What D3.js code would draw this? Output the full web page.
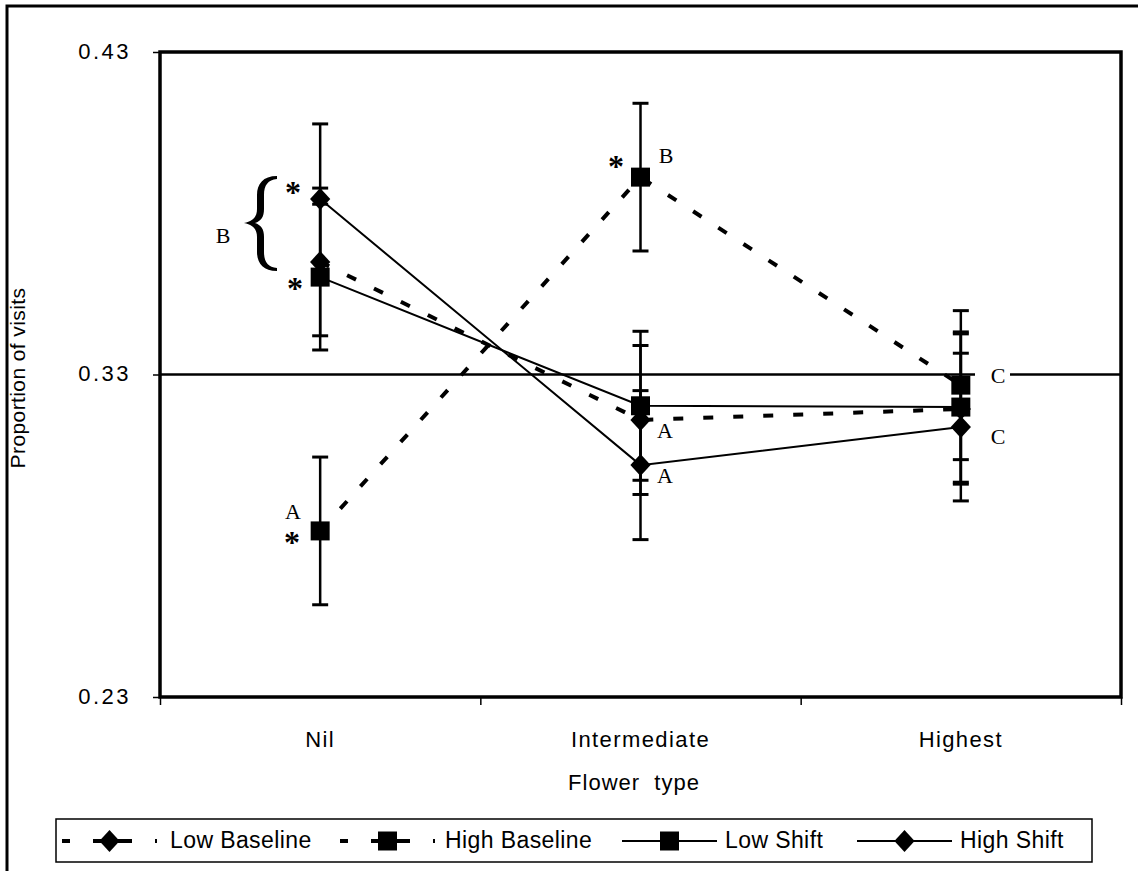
<!DOCTYPE html>
<html>
<head>
<meta charset="utf-8">
<script src="https://cdn.jsdelivr.net/npm/d3@7/dist/d3.min.js"></script>
<style>
  html, body { margin: 0; padding: 0; background: #fff; }
  svg { display: block; }
  .sans { font-family: Arial, "Liberation Sans", sans-serif; fill: #000; }
  .serif { font-family: "Times New Roman", "Liberation Serif", serif; fill: #000; }
</style>
</head>
<body>
<script>
// Flower types on the x axis
const categories = ["Nil", "Intermediate", "Highest"];

// Mean proportion of visits per treatment
const lowBaseline  = [0.3649, 0.3159, 0.3193];
const highBaseline = [0.2815, 0.3912, 0.3267];
const lowShift     = [0.3602, 0.3203, 0.3199];
const highShift    = [0.3844, 0.3019, 0.3137];

// Error bar half-widths
const lowBaselineErr  = [0.0229, 0.0231, 0.0233];
const highBaselineErr = [0.0229, 0.0229, 0.0231];
const lowShiftErr     = [0.0226, 0.0231, 0.0233];
const highShiftErr    = [0.0233, 0.0231, 0.0229];

const seriesNames = ["Low Baseline", "High Baseline", "Low Shift", "High Shift"];
const yTicks = [0.23, 0.33, 0.43];
const referenceLevel = 0.33;

const W = 1138, H = 871;
const plot = { left: 160, right: 1121, top: 52, bottom: 697 };

const series = [
  { name: seriesNames[0], values: lowBaseline,  err: lowBaselineErr,  marker: "diamond", dashed: true },
  { name: seriesNames[1], values: highBaseline, err: highBaselineErr, marker: "square",  dashed: true },
  { name: seriesNames[2], values: lowShift,     err: lowShiftErr,     marker: "square",  dashed: false },
  { name: seriesNames[3], values: highShift,    err: highShiftErr,    marker: "diamond", dashed: false }
];

const svg = d3.select("body").append("svg").attr("width", W).attr("height", H);

// Outer frame (only top and left edges fall inside the page)
svg.append("rect").attr("x", 7).attr("y", 6).attr("width", W + 50).attr("height", H + 50)
  .attr("fill", "none").attr("stroke", "#000").attr("stroke-width", 3);

const x = d3.scalePoint().domain(categories).range([plot.left, plot.right]).padding(0.5);
const y = d3.scaleLinear().domain([0.23, 0.43]).range([plot.bottom, plot.top]);

// Y axis
const yAxis = svg.append("g").attr("transform", `translate(${plot.left},0)`)
  .call(d3.axisLeft(y).tickValues(yTicks).tickFormat(d3.format(".2f")).tickSize(7).tickPadding(22));
yAxis.select(".domain").remove();
yAxis.selectAll(".tick line").attr("stroke", "#000").attr("stroke-width", 1.5);
yAxis.selectAll(".tick text").attr("class", "sans").attr("font-size", 22)
  .attr("letter-spacing", 2.5).attr("dy", "0.28em").attr("fill", "#000");

// X axis: ticks between categories
const xAxisScale = d3.scaleLinear().domain([0, categories.length]).range([plot.left, plot.right]);
const xAxis = svg.append("g").attr("transform", `translate(0,${plot.bottom})`)
  .call(d3.axisBottom(xAxisScale).tickValues(d3.range(categories.length + 1)).tickSize(8).tickFormat(""));
xAxis.select(".domain").remove();
xAxis.selectAll(".tick line").attr("stroke", "#000").attr("stroke-width", 1.5);

svg.append("g").selectAll("text").data(categories).join("text")
  .attr("class", "sans").attr("x", d => x(d)).attr("y", 747)
  .attr("text-anchor", "middle").attr("font-size", 22).attr("letter-spacing", 1.4)
  .text(d => d);

// Axis titles
svg.append("text").attr("class", "sans").attr("x", 634).attr("y", 790)
  .attr("text-anchor", "middle").attr("font-size", 22).attr("letter-spacing", 1)
  .attr("xml:space", "preserve").text("Flower  type");
svg.append("text").attr("class", "sans")
  .attr("transform", "translate(25,378) rotate(-90)")
  .attr("text-anchor", "middle").attr("font-size", 21).attr("letter-spacing", 0.4)
  .text("Proportion of visits");

// Plot frame
svg.append("rect").attr("x", plot.left).attr("y", plot.top)
  .attr("width", plot.right - plot.left).attr("height", plot.bottom - plot.top)
  .attr("fill", "none").attr("stroke", "#000").attr("stroke-width", 3.5);

// Reference line at equal preference
svg.append("line").attr("x1", plot.left).attr("x2", plot.right)
  .attr("y1", y(referenceLevel)).attr("y2", y(referenceLevel))
  .attr("stroke", "#000").attr("stroke-width", 2.5);

const diamondPath = (s) => `M0,${-s}L${s * 0.92},0L0,${s}L${-s * 0.92},0Z`;
const squarePath = (s) => `M${-s},${-s}H${s}V${s}H${-s}Z`;
function markerPath(type) { return type === "diamond" ? diamondPath(11) : squarePath(9.5); }

const line = d3.line().x((d, i) => x(categories[i])).y(d => y(d));

series.forEach(s => {
  const g = svg.append("g");
  // error bars
  s.values.forEach((v, i) => {
    const cx = x(categories[i]);
    const lo = y(v - s.err[i]), hi = y(v + s.err[i]);
    g.append("line").attr("x1", cx).attr("x2", cx).attr("y1", lo).attr("y2", hi)
      .attr("stroke", "#000").attr("stroke-width", 2.5);
    [lo, hi].forEach(yy => g.append("line").attr("x1", cx - 8).attr("x2", cx + 8)
      .attr("y1", yy).attr("y2", yy).attr("stroke", "#000").attr("stroke-width", 3));
  });
  g.append("path").datum(s.values).attr("d", line).attr("fill", "none").attr("stroke", "#000")
    .attr("stroke-width", s.dashed ? 4 : 2)
    .attr("stroke-dasharray", s.dashed ? "10,20" : null);
  g.selectAll("path.m").data(s.values).join("path").attr("class", "m")
    .attr("transform", (d, i) => `translate(${x(categories[i])},${y(d)})`)
    .attr("d", markerPath(s.marker)).attr("fill", "#000");
});

// Significance letters and asterisks
const serifLabels = [
  { t: "B", x: 223, y: 236 },
  { t: "A", x: 293, y: 512 },
  { t: "B", x: 666, y: 156 },
  { t: "A", x: 665, y: 431 },
  { t: "A", x: 665, y: 476 },
  { t: "C", x: 998, y: 437 }
];
// "C" on the reference line sits on a white patch
svg.append("rect").attr("x", 975).attr("y", 364).attr("width", 35).attr("height", 24).attr("fill", "#fff");
serifLabels.push({ t: "C", x: 998, y: 376 });

svg.append("g").selectAll("text").data(serifLabels).join("text")
  .attr("class", "serif").attr("x", d => d.x).attr("y", d => d.y)
  .attr("dy", "0.34em").attr("text-anchor", "middle").attr("font-size", 22).text(d => d.t);

const stars = [
  { x: 293, y: 188 }, { x: 295, y: 284 }, { x: 292, y: 538 }, { x: 616, y: 162 }
];
svg.append("g").selectAll("text").data(stars).join("text")
  .attr("class", "serif").attr("x", d => d.x).attr("y", d => d.y + 15)
  .attr("text-anchor", "middle").attr("font-size", 32).attr("font-weight", "bold").text("*");

// Curly brace grouping the two Nil shift treatments (filled, thicker in the middle)
svg.append("path")
  .attr("d",
    "M277,176 C263,176 257,184 257,195 L257,209 C257,217 253,221 244,223 " +
    "C253,225 257,229 257,237 L257,252 C257,263 263,271 277,271 " +
    "L277,268 C268,267 264,262 264,252 L264,237 C264,229 261,225 255,223 " +
    "C261,221 264,217 264,209 L264,195 C264,185 268,180 277,179 Z")
  .attr("fill", "#000");

// Legend
const legend = svg.append("g");
legend.append("rect").attr("x", 56).attr("y", 819).attr("width", 1036).attr("height", 43)
  .attr("fill", "none").attr("stroke", "#000").attr("stroke-width", 1.5);
const legendItems = [
  { s: series[0], x0: 62, textX: 170 },
  { s: series[1], x0: 340, textX: 445 },
  { s: series[2], x0: 622, textX: 725 },
  { s: series[3], x0: 857, textX: 960 }
];
legendItems.forEach(it => {
  const ly = 841;
  const len = 95;
  legend.append("line").attr("x1", it.x0).attr("x2", it.x0 + len).attr("y1", ly).attr("y2", ly)
    .attr("stroke", "#000").attr("stroke-width", it.s.dashed ? 4 : 2)
    .attr("stroke-dasharray", it.s.dashed ? "8,23" : null);
  if (it.s.dashed) {
    legend.append("line").attr("x1", it.x0 + 31).attr("x2", it.x0 + 70).attr("y1", ly).attr("y2", ly)
      .attr("stroke", "#000").attr("stroke-width", 4);
  }
  legend.append("path").attr("transform", `translate(${it.x0 + len / 2},${ly})`)
    .attr("d", markerPath(it.s.marker)).attr("fill", "#000");
  legend.append("text").attr("class", "sans").attr("x", it.textX).attr("y", 848)
    .attr("font-size", 23).attr("letter-spacing", 0.4).text(it.s.name);
});
</script>
</body>
</html>
